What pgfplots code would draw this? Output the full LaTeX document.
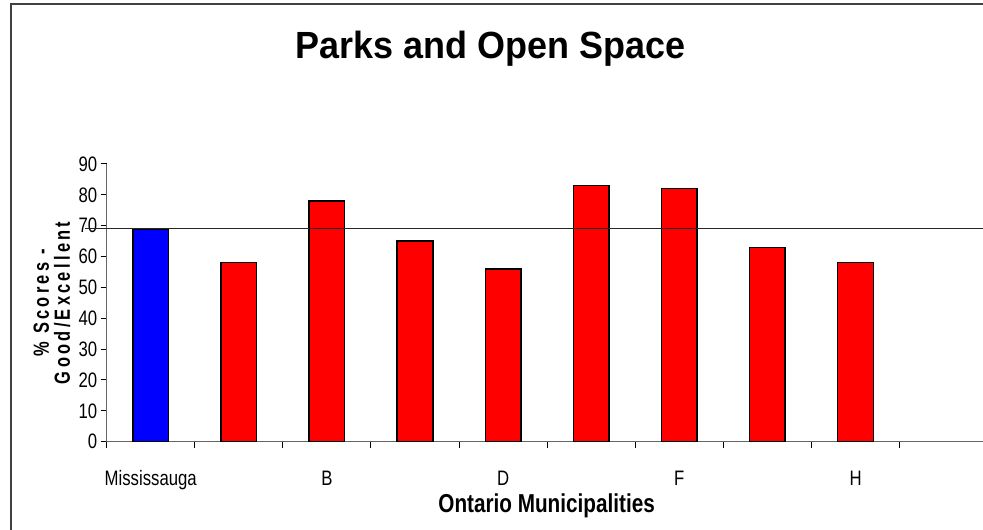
\documentclass[border=0pt]{standalone}
\usepackage{pgfplots}
\pgfplotsset{compat=1.18}
\usepackage{fontspec}
\setmainfont{Liberation Sans}
\newfontfamily\narrowfont[FakeStretch=0.8]{Liberation Sans}
\newfontfamily\titlefont[FakeStretch=0.95]{Liberation Sans}
\newfontfamily\spacedfont[FakeStretch=0.75,LetterSpace=15]{Liberation Sans}
\definecolor{barblue}{RGB}{0,0,255}
\definecolor{barred}{RGB}{255,0,0}
\begin{document}
\begin{tikzpicture}[x=1bp,y=1bp]
\path[use as bounding box] (-106.7,-88.3) rectangle (876.3,441.7);
\draw[black!75, line width=1.5bp] (-95.7,-88.3) -- (-95.7,437.7) -- (876.3,437.7);
\begin{axis}[
  at={(0,0)}, anchor=south west,
  scale only axis, width=876.3bp, height=277.7bp,
  xmin=-0.5, xmax=9.447, ymin=0, ymax=90,
  clip=false,
  axis x line=bottom, axis y line=left,
  axis line style={-, black!60, line width=1.2bp},
  xtick={-0.5,0.5,...,8.5}, xticklabels={},
  extra x ticks={0,2,4,6,8},
  extra x tick labels={Mississauga,B,D,F,H},
  extra x tick style={tick style={draw=none}},
  ytick={0,10,...,90},
  tick align=outside,
  major tick length=6bp,
  tick style={black, line width=1bp},
  /pgf/number format/assume math mode=true,
  ticklabel style={font=\narrowfont\fontsize{21}{21}\selectfont},
  xticklabel style={anchor=base, yshift=-37.5bp},
  yticklabel style={anchor=east},
  title={\titlefont\fontsize{38}{42}\selectfont\bfseries Parks and Open Space},
  title style={at={(axis description cs:0.4382,1)}, anchor=base, yshift=99.5bp},
  xlabel={Ontario Municipalities},
  xlabel style={font=\narrowfont\bfseries\fontsize{26}{26}\selectfont, at={(axis description cs:0.502,0)}, anchor=base, yshift=-70.8bp},
  ylabel={\% Scores -\\Good/Excellent},
  ylabel style={font=\spacedfont\bfseries\fontsize{22}{21}\selectfont, align=center, at={(axis description cs:-0.0624,0.5)}, anchor=center},
]
\addplot[ybar, bar width=35.6bp, bar shift=0pt, fill=barblue, draw=black, line width=1.5bp] coordinates {(0,69)};
\addplot[ybar, bar width=35.6bp, bar shift=0pt, fill=barred, draw=black, line width=1.5bp] coordinates {(1,58) (2,78) (3,65) (4,56) (5,83) (6,82) (7,63) (8,58)};
\addplot[black!85, line width=1.2bp] coordinates {(-0.746,69) (9.447,69)};
\end{axis}
\end{tikzpicture}
\end{document}
